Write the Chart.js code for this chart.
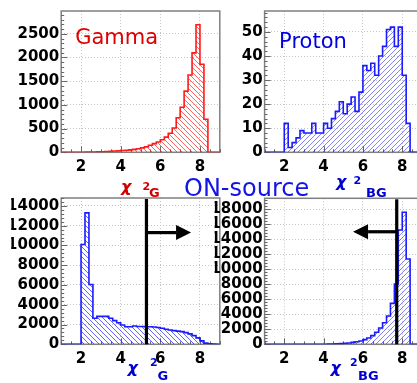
<!DOCTYPE html>
<html><head><meta charset="utf-8">
<script src="https://cdn.jsdelivr.net/npm/chart.js@4/dist/chart.umd.min.js"></script>
<style>
html,body{margin:0;padding:0;background:#fff;overflow:hidden;width:417px;height:383px}
canvas{position:absolute;left:0;top:0}
</style></head>
<body>
<canvas id="c1" width="440" height="383"></canvas>
<canvas id="c2" width="440" height="383"></canvas>
<canvas id="c3" width="440" height="383"></canvas>
<canvas id="c4" width="440" height="383"></canvas>
<script>
// ---- data ----
const binEdges = [1.0,1.2,1.4,1.6,1.8,2.0,2.2,2.4,2.6,2.8,3.0,3.2,3.4,3.6,3.8,4.0,4.2,4.4,4.6,4.8,
                  5.0,5.2,5.4,5.6,5.8,6.0,6.2,6.4,6.6,6.8,7.0,7.2,7.4,7.6,7.8,8.0,8.2,8.4,8.6,8.8,9.0];
const gammaCounts = [0,0,0,0,1,2,3,5,7,10,13,17,21,26,31,37,44,52,62,76,
                     94,115,150,184,217,266,320,402,512,730,949,1291,1631,2096,2690,1857,697,0,0,0];
const protonCounts = [0,0,0,0,0,12,2,4,6,9,8,8,12,8,8,12,10,14,17,21,
                      16,20,23,17,25,36,34,37,32,40,44,51,52,44,52,32,12,0,0,0];
const onSourceChiG = [0,0,0,0,0,10100,13300,6050,2630,2830,2830,2830,2630,2390,2180,1950,1780,1780,1850,1800,
                      1800,1780,1780,1750,1700,1620,1520,1450,1380,1330,1280,1180,1050,880,650,350,120,60,30,0];
const onSourceChiBG = [0,0,0,0,0,0,0,0,0,2,3,4,6,8,10,15,25,40,60,90,
                       130,180,250,330,440,620,840,1150,1600,2170,2880,3770,5460,8040,15240,17600,11370,0,0,0];
const xTicks = [2,4,6,8];
const gammaYTicks = [0,500,1000,1500,2000,2500];
const protonYTicks = [0,10,20,30,40,50];
const chiGYTicks = [0,2000,4000,6000,8000,10000,12000,14000];
const chiBGYTicks = [0,2000,4000,6000,8000,10000,12000,14000,16000,18000];
const cutChiG = 5.3, cutChiBG = 7.72;
const arrowChiG = {y: 11300, tip: 7.55};
const arrowChiBG = {y: 15000, tip: 5.5};

// ---- helpers ----
const W = 440, H = 383;
const RED = '#ff1a1a', BLUE = '#1a1aff';
function hatch(color, dir, size, alpha) {
  const c = document.createElement('canvas');
  c.width = c.height = size;
  const g = c.getContext('2d');
  g.strokeStyle = color; g.lineWidth = 0.9; g.globalAlpha = alpha;
  g.beginPath();
  for (let k = -1; k <= 1; k++) {
    if (dir === '\\') { g.moveTo(k*size, 0); g.lineTo(k*size+size, size); }
    else { g.moveTo(k*size, size); g.lineTo(k*size+size, 0); }
  }
  g.stroke();
  return document.getElementById('c1').getContext('2d').createPattern(c, 'repeat');
}
function histPoints(counts) {
  const pts = counts.map((v, i) => ({x: binEdges[i], y: v}));
  pts.push({x: binEdges[counts.length], y: counts[counts.length-1]});
  return pts;
}
const tickFont = {family: 'DejaVu Sans', size: 15, weight: 'bold'};

const panelPlugin = {
  id: 'panelDeco',
  beforeDatasetsDraw(chart) {
    const a = chart.chartArea, ctx = chart.ctx;
    const xs = chart.scales.x, ys = chart.scales.y;
    ctx.save();
    ctx.strokeStyle = '#808080'; ctx.lineWidth = 1.5;
    ctx.strokeRect(a.left, a.top, a.right - a.left, a.bottom - a.top);
    ctx.strokeStyle = '#666'; ctx.lineWidth = 1;
    ctx.beginPath();
    const yt = ys.ticks.map(t => t.value);
    const step = yt[1] - yt[0];
    for (let v = 0; v <= ys.max; v += step / 5) {
      const y = Math.round(ys.getPixelForValue(v)) + 0.5;
      const major = Math.abs(v / step - Math.round(v / step)) < 1e-6;
      ctx.moveTo(a.left, y); ctx.lineTo(a.left + (major ? 6 : 3), y);
    }
    for (let v = 1; v <= 9; v += 0.5) {
      const x = Math.round(xs.getPixelForValue(v)) + 0.5;
      const major = Math.abs(v / 2 - Math.round(v / 2)) < 1e-6;
      ctx.moveTo(x, a.bottom); ctx.lineTo(x, a.bottom - (major ? 6 : 3));
    }
    ctx.stroke();
    ctx.restore();
  },
  afterDatasetsDraw(chart) {
    const o = chart.options.plugins.panelDeco || {};
    const a = chart.chartArea, ctx = chart.ctx;
    const xs = chart.scales.x, ys = chart.scales.y;
    ctx.save();
    if (o.label) {
      ctx.font = '21px "DejaVu Sans"';
      ctx.fillStyle = o.labelColor;
      ctx.textBaseline = 'alphabetic';
      ctx.fillText(o.label, a.left + o.labelDx, a.top + o.labelDy);
    }
    if (o.cut !== undefined) {
      const x = xs.getPixelForValue(o.cut);
      ctx.fillStyle = '#000';
      ctx.fillRect(x - 1.6, a.top + 1, 3.2, a.bottom - a.top - 1);
      const y = ys.getPixelForValue(o.arrow.y);
      const tip = xs.getPixelForValue(o.arrow.tip);
      const dir = tip > x ? 1 : -1;
      const headLen = 15, headHalf = 7.5;
      const base = tip - dir * headLen;
      ctx.fillRect(Math.min(x, base), y - 1.6, Math.abs(base - x), 3.2);
      ctx.beginPath();
      ctx.moveTo(tip, y);
      ctx.lineTo(base, y - headHalf);
      ctx.lineTo(base, y + headHalf);
      ctx.closePath();
      ctx.fill();
    }
    ctx.restore();
  }
};

function makePanel(id, box, counts, color, hatchDir, hatchSize, hatchAlpha, yTicks, yMax, deco) {
  const ctx = document.getElementById(id).getContext('2d');
  return new Chart(ctx, {
    type: 'line',
    data: {datasets: [{
      data: histPoints(counts),
      stepped: 'before',
      borderColor: color, borderWidth: 1.6,
      backgroundColor: hatch(color, hatchDir, hatchSize, hatchAlpha),
      fill: 'origin', pointRadius: 0, tension: 0
    }]},
    options: {
      responsive: false, animation: false, events: [],
      layout: {padding: {left: box.l - 50, top: box.t, right: W - box.r, bottom: H - box.b - 30}},
      plugins: {legend: {display: false}, tooltip: {enabled: false}, panelDeco: deco},
      scales: {
        x: {type: 'linear', min: 1, max: 9,
            afterBuildTicks: s => { s.ticks = xTicks.map(v => ({value: v})); },
            afterFit: s => { s.height = 30; },
            grid: {color: '#c4c4c4', lineWidth: 1, drawTicks: false},
            border: {display: false, dash: [1, 2]},
            ticks: {font: tickFont, color: '#000', padding: 6, maxRotation: 0, autoSkip: false,
                    callback: v => String(v)}},
        y: {type: 'linear', min: 0, max: yMax,
            afterBuildTicks: s => { s.ticks = yTicks.map(v => ({value: v})); },
            afterFit: s => { s.width = 50; },
            grid: {color: '#c4c4c4', lineWidth: 1, drawTicks: false},
            border: {display: false, dash: [1, 2]},
            ticks: {font: tickFont, color: '#000', padding: 2, autoSkip: false,
                    callback: v => String(v)}}
      }
    },
    plugins: [panelPlugin]
  });
}

makePanel('c1', {l: 61.2, r: 219.8, t: 6, b: 152.3}, gammaCounts, RED, '\\', 5, 0.75, gammaYTicks, 2980,
  {label: 'Gamma', labelColor: '#e00000', labelDx: 14, labelDy: 33});
makePanel('c2', {l: 264.6, r: 421.9, t: 6, b: 152.3}, protonCounts, BLUE, '/', 5, 0.6, protonYTicks, 58.7,
  {label: 'Proton', labelColor: '#0000e0', labelDx: 14.5, labelDy: 36.5});
makePanel('c3', {l: 61.2, r: 219.8, t: 198, b: 344.3}, onSourceChiG, BLUE, '\\', 5, 0.75, chiGYTicks, 14800,
  {cut: cutChiG, arrow: arrowChiG});

const textItems = [
  {t: 'χ', x: 121, y: 192, font: 'italic bold 16px "DejaVu Sans"', c: '#d00000'},
  {t: '2', x: 142.5, y: 190, font: 'bold 11px "DejaVu Sans"', c: '#d00000'},
  {t: 'G', x: 149, y: 197, font: 'bold 13px "DejaVu Sans"', c: '#d00000'},
  {t: 'ON-source', x: 184, y: 195.5, font: '24px "DejaVu Sans"', c: '#1414e6'},
  {t: 'χ', x: 336, y: 187, font: 'italic bold 16px "DejaVu Sans"', c: '#0000d0'},
  {t: '2', x: 353.5, y: 183.5, font: 'bold 11px "DejaVu Sans"', c: '#0000d0'},
  {t: 'BG', x: 366, y: 196.5, font: 'bold 13px "DejaVu Sans"', c: '#0000d0'},
  {t: 'χ', x: 127.5, y: 373, font: 'italic bold 16px "DejaVu Sans"', c: '#0000d0'},
  {t: '2', x: 150, y: 365.5, font: 'bold 11px "DejaVu Sans"', c: '#0000d0'},
  {t: 'G', x: 157.5, y: 380, font: 'bold 13px "DejaVu Sans"', c: '#0000d0'},
  {t: 'χ', x: 330.5, y: 373, font: 'italic bold 16px "DejaVu Sans"', c: '#0000d0'},
  {t: '2', x: 350, y: 365.5, font: 'bold 11px "DejaVu Sans"', c: '#0000d0'},
  {t: 'BG', x: 358, y: 380, font: 'bold 13px "DejaVu Sans"', c: '#0000d0'}
];
const textPlugin = {
  id: 'pageText',
  afterDraw(chart) {
    const ctx = chart.ctx;
    ctx.save();
    ctx.textBaseline = 'alphabetic'; ctx.textAlign = 'left';
    textItems.forEach(it => { ctx.font = it.font; ctx.fillStyle = it.c; ctx.fillText(it.t, it.x, it.y); });
    ctx.restore();
  }
};
const c4 = makePanel('c4', {l: 264.6, r: 421.9, t: 198.3, b: 344.3}, onSourceChiBG, BLUE, '/', 5, 0.6, chiBGYTicks, 19460,
  {cut: cutChiBG, arrow: arrowChiBG});
textPlugin.afterDraw(c4);
</script>
</body></html>
